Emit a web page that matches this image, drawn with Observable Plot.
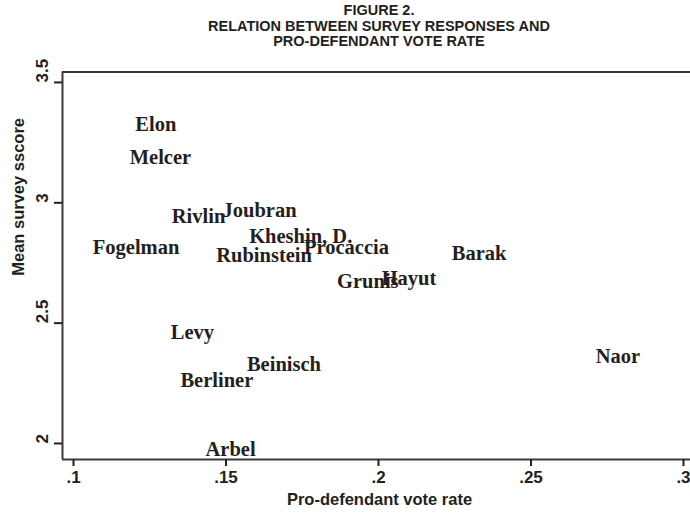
<!DOCTYPE html>
<html><head><meta charset="utf-8">
<script src="https://cdn.jsdelivr.net/npm/d3@7"></script>
<script src="https://cdn.jsdelivr.net/npm/@observablehq/plot@0.6"></script>
<style>
body{margin:0;background:#fff;}
#wrap{position:relative;width:690px;height:515px;}
#title{position:absolute;left:0;top:3px;width:690px;box-sizing:border-box;padding-left:68px;text-align:center;font-family:"Liberation Sans",Arial,sans-serif;font-weight:bold;font-size:14.5px;line-height:15.5px;color:#231f20;}
#chart{position:absolute;left:0;top:0;}
</style></head><body>
<div id="wrap">
<div id="chart"></div>
<div id="title">FIGURE 2.<br>RELATION BETWEEN SURVEY RESPONSES AND<br>PRO-DEFENDANT VOTE RATE</div>
</div>
<script>
const judges = ["Elon","Melcer","Rivlin","Joubran","Fogelman","Kheshin, D.","Procaccia","Rubinstein","Barak","Grunis","Hayut","Levy","Beinisch","Berliner","Naor","Arbel"];
const voteRate = [0.127, 0.1285, 0.141, 0.161, 0.1205, 0.1745, 0.1895, 0.1625, 0.233, 0.1965, 0.21, 0.139, 0.169, 0.147, 0.2785, 0.1515];
const surveyScore = [3.325, 3.19, 2.945, 2.97, 2.815, 2.86, 2.815, 2.78, 2.79, 2.675, 2.685, 2.46, 2.33, 2.26, 2.36, 1.975];
const xTicks = [0.1, 0.15, 0.2, 0.25, 0.3];
const xTickLabels = [".1", ".15", ".2", ".25", ".3"];
const yTicks = [2, 2.5, 3, 3.5];
const yTickLabels = ["2", "2.5", "3", "3.5"];
const xTitle = "Pro-defendant vote rate";
const yTitle = "Mean survey sscore";
const xDomain = [0.09639, 0.3023];
const yDomain = [1.9335, 3.5434];

const data = judges.map((name, i) => ({name, x: voteRate[i], y: surveyScore[i]}));
const ink = "#231f20";
const line = "#3a3a3a";
const sans = '"Liberation Sans", Arial, sans-serif';
const serif = '"Liberation Serif", "Times New Roman", serif';

const chart = Plot.plot({
  width: 690, height: 515,
  marginTop: 71.5, marginBottom: 56, marginLeft: 62, marginRight: 0,
  x: {domain: xDomain},
  y: {domain: yDomain},
  style: {background: "transparent", color: ink},
  marks: [
    Plot.ruleY([yDomain[1]], {stroke: line, strokeWidth: 2}),
    Plot.ruleY([yDomain[0]], {stroke: line, strokeWidth: 2}),
    Plot.ruleX([xDomain[0]], {stroke: line, strokeWidth: 2}),
    Plot.axisX({ticks: xTicks, tickSize: 7, tickPadding: 4, strokeWidth: 2, stroke: ink,
      tickFormat: d => xTickLabels[xTicks.indexOf(d)], fontSize: 17, fontWeight: "bold", fontFamily: sans, fill: ink, label: null}),
    Plot.axisY({ticks: yTicks, tickSize: 8, strokeWidth: 2, stroke: ink, tickFormat: () => "", label: null}),
    Plot.text(yTicks, {y: d => d, text: d => yTickLabels[yTicks.indexOf(d)], frameAnchor: "left", dx: -20, rotate: -90,
      fontSize: 17, fontWeight: "bold", fontFamily: sans, fill: ink}),
    Plot.text([xTitle], {text: d => d, frameAnchor: "bottom", dx: 3, dy: 45, fontSize: 16.5, fontWeight: "bold", fontFamily: sans, fill: ink}),
    Plot.text([yTitle], {text: d => d, frameAnchor: "left", dx: -43.5, dy: 10, rotate: -90, fontSize: 16.5, fontWeight: "bold", fontFamily: sans, fill: ink}),
    Plot.text(data, {x: "x", y: "y", text: "name", fontFamily: serif, fontWeight: "bold", fontSize: 20.5, fill: ink})
  ]
});
document.getElementById("chart").appendChild(chart);
</script>
</body></html>
